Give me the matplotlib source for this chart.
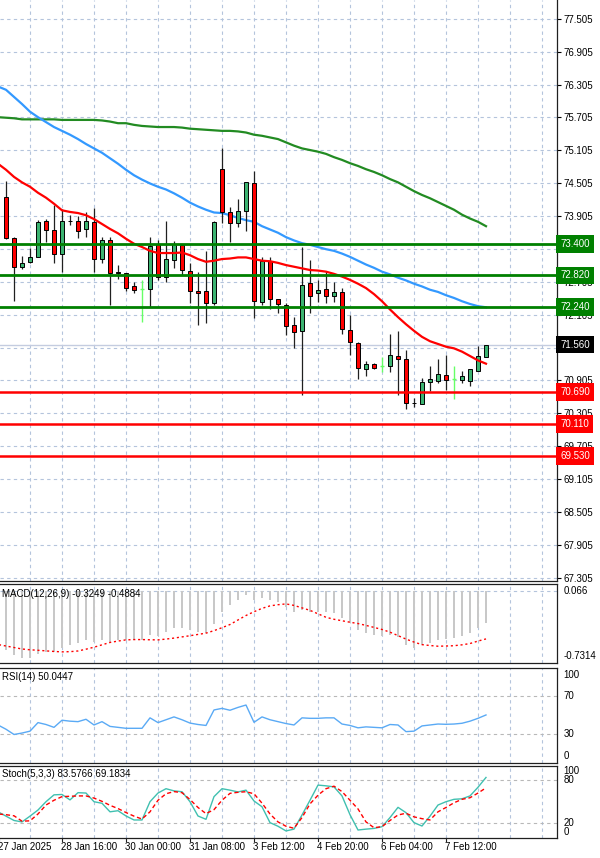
import numpy as np
import matplotlib.pyplot as plt
from matplotlib.transforms import blended_transform_factory

plt.rcParams['font.family'] = ['Liberation Sans', 'DejaVu Sans']

# H4 candles, left to right
opens = [74.25, 73.50, 72.97, 73.07, 73.15, 73.81, 73.65, 73.21, 73.82, 73.81,
         73.66, 73.79, 73.13, 73.47, 72.88, 72.86, 72.63, 72.57, 72.57, 73.39,
         72.80, 73.10, 73.37, 72.91, 72.54, 72.54, 72.32, 74.76, 73.97, 73.77,
         74.00, 74.50, 72.34, 73.09, 72.39, 72.29, 71.92, 71.81, 72.68, 72.50,
         72.57, 72.45, 72.52, 71.83, 71.59, 71.11, 71.20, 71.17, 71.17, 71.35,
         71.29, 70.50, 70.47, 70.88, 70.90, 71.00, 70.93, 70.91, 70.90, 71.08,
         71.34]
highs = [74.55, 73.53, 73.18, 73.32, 73.83, 73.85, 74.11, 74.03, 73.92, 73.91,
         73.97, 74.05, 73.53, 73.52, 73.02, 72.87, 72.71, 72.74, 73.53, 73.47,
         73.81, 73.45, 73.39, 73.04, 72.89, 73.27, 73.82, 75.14, 74.07, 74.21,
         74.53, 74.73, 73.16, 73.15, 72.39, 72.32, 72.07, 73.34, 73.10, 72.74,
         72.91, 72.71, 72.60, 72.10, 71.61, 71.26, 71.23, 71.34, 71.76, 71.81,
         71.46, 70.58, 70.95, 71.16, 71.30, 71.37, 71.17, 71.08, 71.11, 71.53,
         71.56]
lows = [73.48, 72.36, 72.94, 73.04, 73.15, 73.44, 73.04, 72.89, 73.74, 73.50,
        73.53, 72.89, 73.04, 72.29, 72.75, 72.54, 72.50, 71.98, 72.25, 72.74,
        72.71, 72.96, 72.83, 72.31, 71.92, 71.96, 72.29, 73.78, 73.44, 73.70,
        73.64, 72.04, 72.28, 72.20, 72.13, 71.73, 71.49, 70.64, 72.13, 72.34,
        72.32, 72.34, 71.75, 71.37, 70.93, 70.99, 71.11, 71.05, 71.06, 70.63,
        70.38, 70.42, 70.47, 70.72, 70.85, 70.73, 70.56, 70.85, 70.80, 71.08,
        71.34]
closes = [73.50, 72.97, 73.05, 73.15, 73.79, 73.65, 73.21, 73.81, 73.81, 73.64,
          73.81, 73.13, 73.47, 72.87, 72.87, 72.60, 72.56, 72.57, 73.35, 72.80,
          73.12, 73.39, 72.92, 72.54, 72.50, 72.32, 73.79, 73.97, 73.77, 74.00,
          74.52, 72.36, 73.09, 72.39, 72.30, 71.90, 71.79, 72.65, 72.45, 72.56,
          72.45, 72.52, 71.84, 71.61, 71.13, 71.20, 71.14, 71.17, 71.37, 71.29,
          70.50, 70.49, 70.88, 70.93, 71.02, 70.91, 70.93, 70.99, 71.11, 71.35,
          71.56]

# indicator series start one bar earlier (bar cut by the left edge)
ma_red = [74.86, 74.75, 74.62, 74.52, 74.44, 74.33, 74.24, 74.13, 74.01, 73.98,
          73.96, 73.92, 73.85, 73.76, 73.67, 73.59, 73.49, 73.40, 73.34, 73.27,
          73.23, 73.23, 73.23, 73.24, 73.19, 73.12, 73.07, 73.09, 73.12, 73.13,
          73.15, 73.15, 73.12, 73.09, 73.08, 73.05, 73.01, 72.98, 72.95, 72.92,
          72.91, 72.89, 72.85, 72.80, 72.74, 72.67, 72.59, 72.48, 72.35, 72.20,
          72.06, 71.93, 71.81, 71.70, 71.62, 71.57, 71.52, 71.49, 71.43, 71.35,
          71.27, 71.21]
ma_blue = [76.27, 76.21, 76.08, 75.95, 75.81, 75.71, 75.62, 75.53, 75.46, 75.39,
           75.31, 75.22, 75.14, 75.06, 74.96, 74.86, 74.75, 74.65, 74.57, 74.50,
           74.44, 74.39, 74.32, 74.24, 74.15, 74.08, 74.02, 73.97, 73.96, 73.92,
           73.87, 73.83, 73.80, 73.72, 73.66, 73.60, 73.52, 73.46, 73.41, 73.38,
           73.34, 73.30, 73.27, 73.22, 73.16, 73.09, 73.02, 72.96, 72.89, 72.84,
           72.78, 72.73, 72.67, 72.62, 72.56, 72.52, 72.46, 72.41, 72.35, 72.30,
           72.26, 72.24]
ma_green = [75.71, 75.70, 75.69, 75.67, 75.67, 75.67, 75.67, 75.67, 75.66, 75.66,
            75.66, 75.66, 75.66, 75.65, 75.63, 75.60, 75.60, 75.57, 75.55, 75.54,
            75.53, 75.53, 75.53, 75.52, 75.50, 75.49, 75.48, 75.47, 75.46, 75.46,
            75.45, 75.43, 75.39, 75.37, 75.34, 75.31, 75.25, 75.19, 75.14, 75.11,
            75.08, 75.04, 74.98, 74.93, 74.87, 74.82, 74.76, 74.71, 74.65, 74.58,
            74.52, 74.44, 74.36, 74.29, 74.23, 74.16, 74.09, 74.02, 73.93, 73.86,
            73.80, 73.72]

macd_main = [-0.58, -0.60, -0.65, -0.68, -0.68, -0.64, -0.62, -0.62, -0.58, -0.55,
             -0.53, -0.50, -0.52, -0.50, -0.52, -0.50, -0.50, -0.50, -0.50, -0.45,
             -0.46, -0.42, -0.38, -0.38, -0.40, -0.42, -0.43, -0.34, -0.22, -0.15,
             -0.10, -0.05, -0.10, -0.08, -0.10, -0.12, -0.17, -0.22, -0.20, -0.22,
             -0.22, -0.22, -0.23, -0.28, -0.33, -0.40, -0.43, -0.45, -0.46, -0.45,
             -0.47, -0.55, -0.58, -0.55, -0.53, -0.50, -0.49, -0.48, -0.46, -0.43,
             -0.38, -0.3249]
macd_signal = [-0.545, -0.56, -0.575, -0.59, -0.598, -0.603, -0.609, -0.615, -0.619, -0.617,
               -0.61, -0.592, -0.572, -0.548, -0.524, -0.51, -0.498, -0.495, -0.495, -0.497,
               -0.498, -0.49, -0.48, -0.468, -0.456, -0.443, -0.43, -0.405, -0.375, -0.343,
               -0.297, -0.252, -0.214, -0.18, -0.155, -0.143, -0.135, -0.15, -0.175, -0.20,
               -0.235, -0.27, -0.29, -0.305, -0.32, -0.333, -0.352, -0.372, -0.393, -0.42,
               -0.455, -0.49, -0.52, -0.546, -0.555, -0.562, -0.56, -0.557, -0.548, -0.535,
               -0.51, -0.4884]

rsi = [39.5, 35, 29.5, 31, 33, 42, 40, 37, 44.5, 43.5,
       43, 45.5, 39.5, 43, 38, 37, 36, 36, 36, 47,
       42, 45, 48, 45, 41.5, 40, 39, 55.3, 57, 55,
       58, 60.5, 42.3, 48, 45, 43, 41, 39.5, 47, 46.5,
       46.5, 47, 47, 40.5, 39, 36.5, 37.5, 37, 36.5, 40,
       39.5, 32.5, 33, 38.5, 39.5, 40.5, 40.2, 40.5, 41.3, 43.5,
       46.5, 50.0447]

stoch_k = [36, 30, 24, 22, 30, 38.5, 50, 59.5, 60, 52.5,
           62.5, 62, 50, 47.8, 36, 37.5, 30.2, 24.7, 24.7, 50,
           62, 68, 65, 63.8, 50, 30.2, 25.6, 57, 68, 66,
           63.5, 66, 51, 43, 21, 16, 9.5, 12, 31.6, 52,
           73, 72, 70.5, 58, 32, 10.8, 12, 13, 15.4, 28,
           42.2, 34.8, 21, 16.3, 30, 45.4, 50, 53.3, 54, 58,
           70, 83.5766]
stoch_d = [33, 32, 30.5, 23, 23.5, 33, 45.4, 52, 57, 57.5,
           58, 58, 55, 50.5, 45, 40.5, 35, 30, 26, 36,
           52, 61, 64, 62.5, 53, 42, 33.5, 39, 52, 61.6,
           63, 63.8, 61, 48, 33, 22, 16, 13.2, 28, 47,
           59, 68, 71.5, 64, 52, 40, 22, 14, 15.4, 24,
           31.6, 34, 29, 26.5, 24.7, 36, 42, 48.5, 53.3, 55.5,
           62, 69.1834]

support_levels = [70.69, 70.11, 69.53]
resist_levels = [73.40, 72.82, 72.24]
last_price = 71.56
price_ticks = [67.305 + 0.6 * k for k in range(18)]

date_labels = ['27 Jan 2025', '28 Jan 16:00', '30 Jan 00:00', '31 Jan 08:00',
               '3 Feb 12:00', '4 Feb 20:00', '6 Feb 04:00', '7 Feb 12:00']
date_pos = [-0.85, 7, 15, 23, 31, 39, 47, 55]

# ---- layout (pixel rows of the 600x858 picture) ----
W, H = 600, 858
fig = plt.figure(figsize=(6, 8.58), dpi=100)


def panel(top, bottom):
    return fig.add_axes([0, 1 - bottom / H, 557 / W, (bottom - top) / H])


ax = panel(0, 581)
ax_macd = panel(584, 663)
ax_rsi = panel(667.5, 762.5)
ax_sto = panel(765.6, 837.8)

grid_col = '#b4c4dc'
dash = (0, (3, 3))
xlim = (-0.75, 68.875)
vgrid = np.arange(3, 69, 4)

for a in [ax, ax_macd, ax_rsi, ax_sto]:
    a.set_xlim(*xlim)
    a.set_facecolor('white')
    for x in vgrid:
        a.axvline(x, color=grid_col, lw=0.8, ls=dash, zorder=0)
    a.spines['left'].set_visible(False)
    for s in ['top', 'bottom', 'right']:
        a.spines[s].set_color('#202020')
        a.spines[s].set_linewidth(0.9)
    a.set_xticks([])
    a.yaxis.tick_right()
    a.tick_params(axis='y', length=3, width=0.8, labelsize=7, pad=2, colors='black')
ax.spines['top'].set_visible(False)

# ---- main price panel ----
ax.set_ylim(67.243, 77.849)
ax.set_yticks(price_ticks)
# the 71.505 label sits fully behind the last-price box
ax.set_yticklabels(['' if abs(v - 71.505) < 1e-6 else '%.3f' % v for v in price_ticks])
for v in price_ticks:
    ax.axhline(v, color=grid_col, lw=0.8, ls=dash, zorder=0)

ax.axhline(last_price, color='#c4cce0', lw=1.0, zorder=1)

idx = np.arange(len(opens))
ma_x = np.arange(len(ma_red)) - 1
ax.plot(ma_x, ma_green, color='#228b22', lw=1.6, zorder=3)
ax.plot(ma_x, ma_blue, color='#3399ff', lw=1.6, zorder=3)

for i in idx:
    o, h, l, c = opens[i], highs[i], lows[i], closes[i]
    if c == o:
        ax.vlines(i, l, h, color='#66ff66', lw=1.0, zorder=4)
        ax.hlines(o, i - 0.3, i + 0.3, color='#66ff66', lw=1.0, zorder=4)
        continue
    ax.vlines(i, l, h, color='#202020', lw=0.9, zorder=4)
    fill = '#3cb371' if c > o else '#ff0000'
    ax.bar(i, abs(c - o), bottom=min(o, c), width=0.62, color=fill,
           edgecolor='black', lw=0.7, zorder=5)

ax.plot(ma_x, ma_red, color='#ff0000', lw=1.6, zorder=6)

for lv in resist_levels:
    ax.axhline(lv, color='#008000', lw=2.0, zorder=7)
for lv in support_levels:
    ax.axhline(lv, color='#ff0000', lw=1.8, zorder=7)

tr = blended_transform_factory(ax.transAxes, ax.transData)
boxes = [(lv, '#008000') for lv in resist_levels] + \
        [(lv, '#ff0000') for lv in support_levels] + [(last_price, '#000000')]
for lv, col in boxes:
    ax.text(1.006, lv, '%.3f' % lv, transform=tr, ha='left', va='center',
            fontsize=7, color='white', zorder=10, clip_on=False,
            bbox=dict(boxstyle='square,pad=0.4', fc=col, ec='none'))

# ---- MACD ----
ind_x = np.arange(len(macd_main)) - 1
ax_macd.set_ylim(-0.7314, 0.066)
ax_macd.set_yticks([])
ax_macd.axhline(0, color=grid_col, lw=0.8, ls=dash, zorder=0)
ax_macd.bar(ind_x, macd_main, width=0.24, color='#c8c8c8', zorder=2)
ax_macd.plot(ind_x, macd_signal, color='#ff0000', lw=1.0, ls=(0, (1.5, 2)), zorder=3)
trm = ax_macd.transAxes
ax_macd.text(1.012, 0.97, '0.066', transform=trm, fontsize=7, ha='left', va='top')
ax_macd.text(1.012, 0.03, '-0.7314', transform=trm, fontsize=7, ha='left', va='bottom')
ax_macd.text(0.004, 0.94, 'MACD(12,26,9) -0.3249 -0.4884', transform=trm,
             fontsize=7, ha='left', va='top')

# ---- RSI ----
ax_rsi.set_ylim(0, 100)
ax_rsi.set_yticks([])
for v in [70, 30]:
    ax_rsi.axhline(v, color='#b8b8b8', lw=0.8, ls=dash, zorder=0)
ax_rsi.plot(ind_x, rsi, color='#5aaaf5', lw=1.0, zorder=3)
trr = blended_transform_factory(ax_rsi.transAxes, ax_rsi.transData)
ax_rsi.text(1.012, 97, '100', transform=trr, fontsize=7, ha='left', va='top')
ax_rsi.text(1.012, 70, '70', transform=trr, fontsize=7, ha='left', va='center')
ax_rsi.text(1.012, 30, '30', transform=trr, fontsize=7, ha='left', va='center')
ax_rsi.text(1.012, 2, '0', transform=trr, fontsize=7, ha='left', va='bottom')
ax_rsi.text(0.004, 0.95, 'RSI(14) 50.0447', transform=ax_rsi.transAxes,
            fontsize=7, ha='left', va='top')

# ---- Stochastic ----
ax_sto.set_ylim(0, 100)
ax_sto.set_yticks([])
for v in [80, 20]:
    ax_sto.axhline(v, color='#b8b8b8', lw=0.8, ls=dash, zorder=0)
ax_sto.plot(ind_x, stoch_k, color='#40c0b0', lw=1.0, zorder=3)
ax_sto.plot(ind_x, stoch_d, color='#ff0000', lw=1.0, ls=(0, (3, 2)), zorder=3)
trs = blended_transform_factory(ax_sto.transAxes, ax_sto.transData)
ax_sto.text(1.012, 93, '100', transform=trs, fontsize=7, ha='left', va='center')
ax_sto.text(1.012, 80, '80', transform=trs, fontsize=7, ha='left', va='center')
ax_sto.text(1.012, 20, '20', transform=trs, fontsize=7, ha='left', va='center')
ax_sto.text(1.012, 8, '0', transform=trs, fontsize=7, ha='left', va='center')
ax_sto.text(0.004, 0.95, 'Stoch(5,3,3) 83.5766 69.1834', transform=ax_sto.transAxes,
            fontsize=7, ha='left', va='top')

# date labels under the last panel
trd = blended_transform_factory(ax_sto.transData, ax_sto.transAxes)
for pos, lab in zip(date_pos, date_labels):
    ax_sto.plot([pos, pos], [0, -0.05], color='#202020', lw=0.8,
                transform=trd, clip_on=False)
    ax_sto.text(pos - 0.1, -0.06, lab, transform=trd, fontsize=7,
                ha='left', va='top', clip_on=False)

fig.savefig('out.png', dpi=100)
